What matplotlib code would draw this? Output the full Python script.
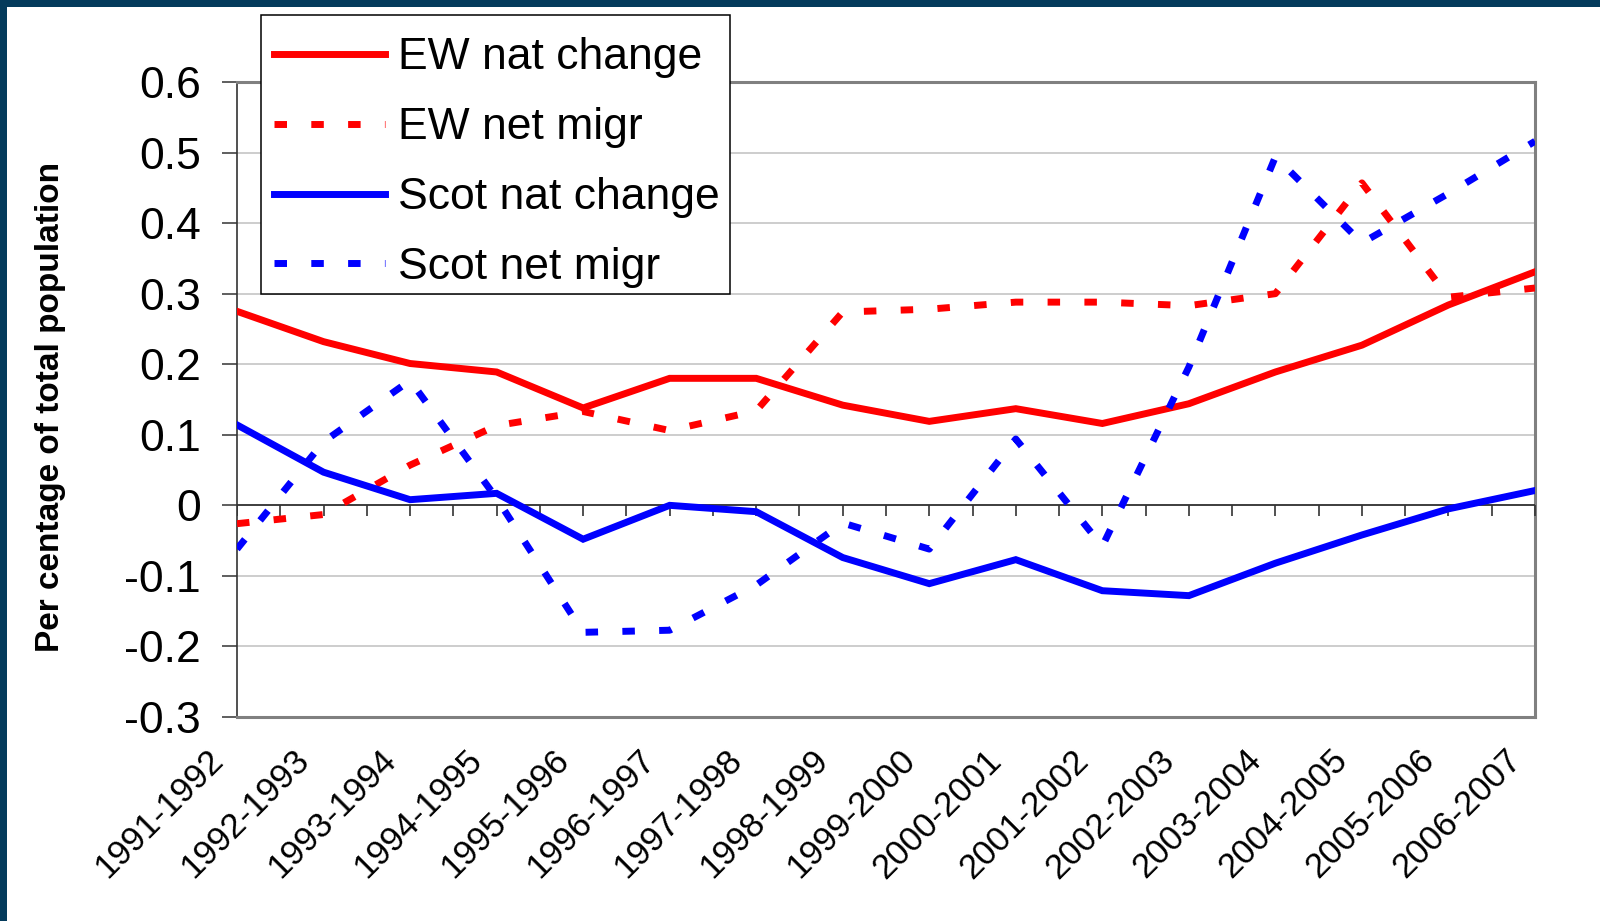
import numpy as np
import matplotlib
matplotlib.use("Agg")
import matplotlib.pyplot as plt
from matplotlib.patches import Rectangle
from matplotlib.transforms import ScaledTranslation

plt.rcParams['font.family'] = ['Liberation Sans', 'DejaVu Sans']

# data (per cent of total population)
years = ['1991-1992', '1992-1993', '1993-1994', '1994-1995', '1995-1996', '1996-1997',
         '1997-1998', '1998-1999', '1999-2000', '2000-2001', '2001-2002', '2002-2003',
         '2003-2004', '2004-2005', '2005-2006', '2006-2007']
ew_nat = [0.275, 0.232, 0.201, 0.189, 0.138, 0.180, 0.180, 0.142,
          0.119, 0.137, 0.116, 0.144, 0.189, 0.227, 0.284, 0.331]
ew_mig = [-0.026, -0.013, 0.057, 0.113, 0.133, 0.106, 0.134, 0.274,
          0.278, 0.288, 0.288, 0.283, 0.300, 0.457, 0.295, 0.308]
scot_nat = [0.114, 0.047, 0.008, 0.017, -0.048, 0.000, -0.009, -0.074,
            -0.111, -0.077, -0.121, -0.128, -0.082, -0.042, -0.005, 0.021]
scot_mig = [-0.062, 0.090, 0.177, 0.010, -0.180, -0.177, -0.113, -0.025,
            -0.062, 0.094, -0.058, 0.196, 0.494, 0.372, 0.442, 0.516]
yticks = [-0.3, -0.2, -0.1, 0, 0.1, 0.2, 0.3, 0.4, 0.5, 0.6]

W, H = 1600, 921
fig = plt.figure(figsize=(W / 100, H / 100), dpi=100)
fig.patch.set_facecolor('#043b5c')
# white slide area (dark border only on top and left)
fig.patches.append(Rectangle((7 / W, 0), 1, (H - 7) / H, transform=fig.transFigure,
                             facecolor='white', edgecolor='none', zorder=-10))

ax = fig.add_axes([237 / W, 1 - 717 / H, (1535 - 237) / W, (717 - 82) / H])
ax.set_facecolor('white')

x = np.arange(len(years))
dots = (0, (1.8, 3.5))
l1, = ax.plot(x, ew_nat, color='#ff0000', lw=5, solid_joinstyle='miter', label='EW nat change', zorder=4)
l2, = ax.plot(x, ew_mig, color='#ff0000', lw=5, ls=dots, dash_capstyle='butt', label='EW net migr', zorder=4)
l3, = ax.plot(x, scot_nat, color='#0000ff', lw=5, solid_joinstyle='miter', label='Scot nat change', zorder=4)
l4, = ax.plot(x, scot_mig, color='#0000ff', lw=5, ls=dots, dash_capstyle='butt', label='Scot net migr', zorder=4)

ax.set_xlim(0, len(years) - 1)
ax.set_ylim(-0.3, 0.6)
ax.set_yticks(yticks)
ax.set_yticklabels(['0' if v == 0 else f'{v:g}' for v in yticks])
ax.grid(axis='y', color='#c0c0c0', lw=1.1, zorder=1)
ax.tick_params(axis='y', direction='out', length=11, width=1.1, color='#333333',
               labelsize=32, pad=15)

# category labels sit below the plot area, rotated
ax.set_xticks(x)
ax.set_xticklabels(years, rotation=45, ha='right', va='top', rotation_mode='anchor', fontsize=25)
ax.tick_params(axis='x', length=0, pad=19)
shift = ScaledTranslation(-31 / 100, 0, fig.dpi_scale_trans)
for lab in ax.get_xticklabels():
    lab.set_transform(lab.get_transform() + shift)

# the category axis crosses at zero, ticks every half step
ax.axhline(0, color='#333333', lw=1.3, zorder=3)
half = np.arange(0, len(years) - 0.5, 0.5)
ax.plot(half, np.zeros(len(half)), ls='none', marker=3, ms=8, mew=1.2, color='#333333', zorder=3)

for s in ['top', 'right', 'bottom']:
    ax.spines[s].set_color('#808080')
    ax.spines[s].set_linewidth(2.2)
ax.spines['left'].set_color('#333333')
ax.spines['left'].set_linewidth(1.2)

fig.text(51 / W, 1 - 407 / H, 'Per centage of total population', rotation=90,
         ha='center', va='center', fontsize=24, fontweight='bold')

# legend box drawn separately so the rows can sit lower inside it
fig.patches.append(Rectangle((261 / W, 1 - 294 / H), (730 - 261) / W, (294 - 15) / H,
                             transform=fig.transFigure, facecolor='white',
                             edgecolor='black', lw=1.1, zorder=9))
leg = fig.legend(handles=[l1, l2, l3, l4], loc='upper left',
                 bbox_to_anchor=(261 / W, 1 - 24 / H), bbox_transform=fig.transFigure,
                 fontsize=32, frameon=False,
                 borderaxespad=0, borderpad=0.3, handlelength=2.5, handletextpad=0.28,
                 labelspacing=0.65)
leg.set_zorder(10)

fig.savefig('out.png', dpi=100, facecolor=fig.get_facecolor())
